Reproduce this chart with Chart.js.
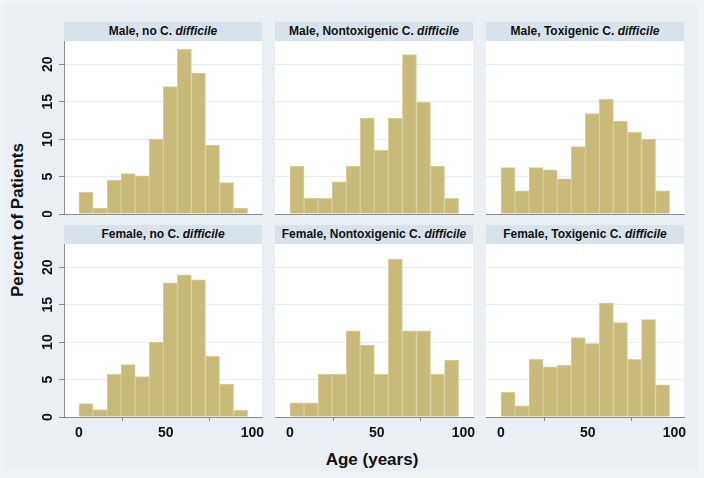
<!DOCTYPE html>
<html>
<head>
<meta charset="utf-8">
<script src="https://cdn.jsdelivr.net/npm/chart.js@4.4.1/dist/chart.umd.min.js"></script>
<style>
html,body{margin:0;padding:0;background:#eef3f6;}
#wrap{position:relative;width:704px;height:478px;overflow:hidden;font-family:"Liberation Sans",Arial,sans-serif;color:#111;}
#frame{position:absolute;left:4px;top:5px;width:694px;height:466px;background:#e9eff3;}
.hdr{position:absolute;height:19px;line-height:19px;background:#d7e2ea;text-align:center;font-weight:bold;font-size:12px;color:#111;white-space:nowrap;}
canvas{position:absolute;}
#ytitle{position:absolute;left:18px;top:220px;transform:translate(-50%,-50%) rotate(-90deg);font-weight:bold;font-size:17px;white-space:nowrap;}
#xtitle{position:absolute;left:372px;top:460px;transform:translate(-50%,-50%);font-weight:bold;font-size:17px;white-space:nowrap;}
</style>
</head>
<body>
<div id="wrap">
  <div id="frame"></div>
  <div id="ytitle">Percent of Patients</div>
  <div id="xtitle">Age (years)</div>
</div>
<script>
// ---- data ----
const ageBinCenters = [4.05, 12.15, 20.25, 28.35, 36.45, 44.55, 52.65, 60.75, 68.85, 76.95, 85.05, 93.15];
const yTickValues = [0, 5, 10, 15, 20];
const xTickValues = [0, 50, 100];
const sexLabels = ["Male", "Female"];
const groupLabels = ["no", "Nontoxigenic", "Toxigenic"];
const maleNone     = [2.9, 0.8, 4.5, 5.4, 5.1, 10.0, 17.0, 22.0, 18.8, 9.2, 4.2, 0.8];
const maleNontox   = [6.4, 2.1, 2.1, 4.3, 6.4, 12.8, 8.5, 12.8, 21.3, 14.9, 6.4, 2.1];
const maleTox      = [6.2, 3.1, 6.2, 5.9, 4.7, 9.0, 13.4, 15.3, 12.4, 10.9, 10.0, 3.1];
const femaleNone   = [1.8, 1.0, 5.7, 7.0, 5.4, 10.0, 17.9, 19.0, 18.3, 8.1, 4.4, 0.9];
const femaleNontox = [1.9, 1.9, 5.7, 5.7, 11.5, 9.6, 5.7, 21.1, 11.5, 11.5, 5.7, 7.6];
const femaleTox    = [3.3, 1.5, 7.7, 6.7, 6.9, 10.6, 9.8, 15.2, 12.6, 7.7, 13.0, 4.3];
const seriesGrid = [[maleNone, maleNontox, maleTox], [femaleNone, femaleNontox, femaleTox]];

// ---- layout ----
const colL = [64, 275, 486];
const rowT = [41, 244];
const plotW = 198, plotH = 173, hdrH = 19;
const X_MIN = -8.65, X_MAX = 105.5, Y_MAX = 23.1;
const FONT = "'Liberation Sans', Arial, sans-serif";
const barFill = '#c8ba78';
const barEdge = '#d8ce9b';
const axisGray = '#8c8c8c';

const whiteArea = {
  id: 'whiteArea',
  beforeDraw(chart) {
    const a = chart.chartArea, c = chart.ctx;
    c.save(); c.fillStyle = '#ffffff';
    c.fillRect(a.left, a.top, a.right - a.left, a.bottom - a.top);
    c.restore();
  }
};

const wrap = document.getElementById('wrap');
for (let r = 0; r < 2; r++) {
  for (let c = 0; c < 3; c++) {
    const hdr = document.createElement('div');
    hdr.className = 'hdr';
    hdr.style.left = colL[c] + 'px';
    hdr.style.top = (rowT[r] - hdrH) + 'px';
    hdr.style.width = plotW + 'px';
    hdr.innerHTML = sexLabels[r] + ', ' + groupLabels[c] + ' C. <i>difficile</i>';
    wrap.appendChild(hdr);

    const leftExtra = c === 0 ? 34 : 0;
    const bottomExtra = r === 1 ? 30 : 3;
    const rightExtra = 12;
    const cv = document.createElement('canvas');
    const w = plotW + leftExtra + rightExtra, h = plotH + bottomExtra;
    cv.width = w; cv.height = h;
    cv.style.left = (colL[c] - leftExtra) + 'px';
    cv.style.top = rowT[r] + 'px';
    cv.style.width = w + 'px'; cv.style.height = h + 'px';
    wrap.appendChild(cv);

    const values = seriesGrid[r][c];
    new Chart(cv, {
      type: 'bar',
      data: {
        datasets: [{
          data: ageBinCenters.map((x, i) => ({ x: x, y: values[i] })),
          backgroundColor: barFill,
          borderColor: barEdge,
          borderWidth: 1,
          barPercentage: 1,
          categoryPercentage: 1,
          grouped: false
        }]
      },
      options: {
        responsive: false,
        animation: false,
        devicePixelRatio: 1,
        layout: { padding: { left: 0, top: 0, right: rightExtra, bottom: 0 } },
        plugins: { legend: { display: false }, tooltip: { enabled: false }, title: { display: false } },
        scales: {
          x: {
            type: 'linear', min: X_MIN, max: X_MAX, offset: false,
            afterBuildTicks: s => { s.ticks = xTickValues.map(v => ({ value: v })); },
            afterFit: s => { s.height = bottomExtra; s.paddingLeft = 0; s.paddingRight = 0; },
            grid: { display: r === 1, drawOnChartArea: false, drawTicks: r === 1, tickLength: 4, tickColor: axisGray, color: axisGray },
            border: { display: true, color: axisGray, width: 1 },
            ticks: { display: r === 1, padding: 4, maxRotation: 0, minRotation: 0, color: '#111',
                     font: { family: FONT, size: 14, weight: 'bold' } }
          },
          y: {
            min: 0, max: Y_MAX,
            afterBuildTicks: s => { s.ticks = yTickValues.map(v => ({ value: v })); },
            afterFit: s => { s.width = leftExtra; s.paddingTop = 0; s.paddingBottom = 0; },
            grid: { display: true, drawOnChartArea: true, drawTicks: c === 0, tickLength: 5, color: '#e8edf0', tickColor: axisGray, lineWidth: 1 },
            border: { display: c === 0, color: axisGray, width: 1 },
            ticks: { display: c === 0, padding: 3, minRotation: 90, maxRotation: 90, crossAlign: 'center', color: '#111',
                     font: { family: FONT, size: 14, weight: 'bold' } }
          }
        }
      },
      plugins: [whiteArea]
    });
  }
}
</script>
</body>
</html>
